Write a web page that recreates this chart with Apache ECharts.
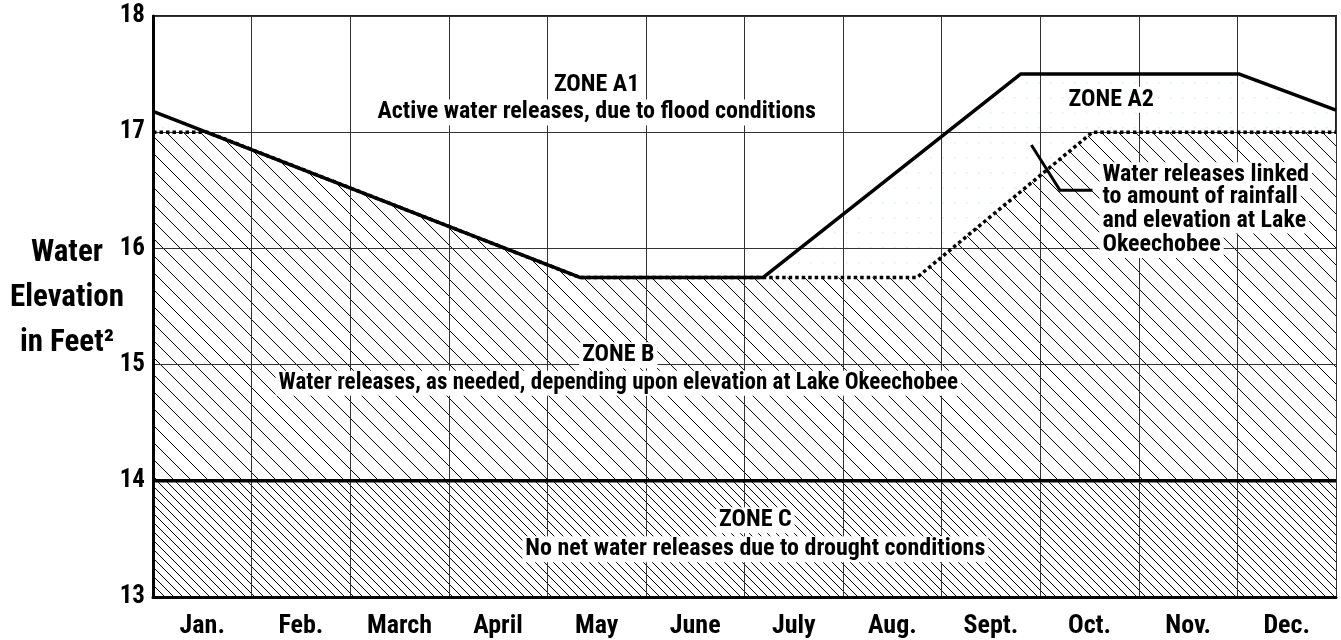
<!DOCTYPE html>
<html>
<head>
<meta charset="utf-8">
<script src="https://cdn.jsdelivr.net/npm/echarts@6/dist/echarts.min.js"></script>
<style>
  html, body { margin: 0; padding: 0; background: #fff; }
  #chart { width: 1341px; height: 640px; }
</style>
</head>
<body>
<div id="chart"></div>
<script>
// months on the x axis, 0 = start of Jan., 12 = end of Dec.
var months = ['Jan.', 'Feb.', 'March', 'April', 'May', 'June', 'July', 'Aug.', 'Sept.', 'Oct.', 'Nov.', 'Dec.']
var yTicks = [13, 14, 15, 16, 17, 18]

// upper schedule line (solid) - [month position, feet]
var zoneA1Line = [[0, 17.18], [4.33, 15.75], [6.19, 15.75], [8.8, 17.5], [11.02, 17.5], [12, 17.19]]
// lower schedule line (dotted) - top of zone B
var zoneBLine = [[0, 17], [0.55, 17], [4.33, 15.75], [7.75, 15.75], [9.53, 17], [12, 17]]
// drought line - top of zone C
var zoneCLine = [[0, 14], [12, 14]]

var FONT = "'Liberation Sans Narrow','Roboto Condensed','DejaVu Sans Condensed','Arial Narrow',sans-serif"

function hatch(step, bg) {
  var c = document.createElement('canvas')
  c.width = step
  c.height = step
  var ctx = c.getContext('2d')
  if (bg) {
    ctx.fillStyle = bg
    ctx.fillRect(0, 0, step, step)
  }
  ctx.strokeStyle = '#000'
  ctx.lineWidth = 1
  for (var k = -1; k <= 1; k++) {
    ctx.beginPath()
    ctx.moveTo(k * step - 1, -1)
    ctx.lineTo(k * step + step + 1, step + 1)
    ctx.stroke()
  }
  return c
}

function dots() {
  var c = document.createElement('canvas')
  c.width = 12
  c.height = 15
  var ctx = c.getContext('2d')
  ctx.fillStyle = '#d6ecee'
  ctx.fillRect(6, 7, 1.5, 1.5)
  return c
}

var mychart = echarts.init(document.getElementById('chart'))

mychart.setOption({
  animation: false,
  grid: {
    left: 153,
    right: 5,
    top: 16,
    bottom: 43,
    show: true,
    borderColor: '#222',
    borderWidth: 2
  },
  xAxis: [
    {
      type: 'value',
      min: 0,
      max: 12,
      interval: 1,
      z: 3,
      axisLine: { show: false },
      axisTick: { show: false },
      axisLabel: { show: false },
      splitLine: { lineStyle: { color: '#333', width: 1 } }
    },
    {
      type: 'category',
      data: months,
      position: 'bottom',
      boundaryGap: true,
      z: 3,
      axisLine: { lineStyle: { color: '#000', width: 3 } },
      axisTick: { length: 21, lineStyle: { color: '#000', width: 2 } },
      axisLabel: {
        margin: 16,
        color: '#000',
        fontFamily: FONT,
        fontWeight: 'bold',
        fontSize: 26
      },
      splitLine: { show: false }
    }
  ],
  yAxis: {
    type: 'value',
    min: yTicks[0],
    max: yTicks[yTicks.length - 1],
    interval: 1,
    z: 3,
    axisLine: { show: true, lineStyle: { color: '#000', width: 3 } },
    axisTick: { show: false },
    axisLabel: {
      margin: 8,
      color: '#000',
      fontFamily: FONT,
      fontWeight: 'bold',
      fontSize: 25
    },
    splitLine: { lineStyle: { color: '#333', width: 1 } }
  },
  series: [
    {
      // faint dots between the two schedule lines (zone A2)
      name: 'A2 fill',
      type: 'line',
      data: zoneA1Line,
      symbol: 'none',
      z: 1,
      lineStyle: { width: 0 },
      areaStyle: { origin: 'start', opacity: 1, color: { image: dots(), repeat: 'repeat' } }
    },
    {
      name: 'Zone B',
      type: 'line',
      data: zoneBLine,
      symbol: 'none',
      z: 2,
      lineStyle: { width: 0 },
      areaStyle: { origin: 14, opacity: 1, color: { image: hatch(17, '#fff'), repeat: 'repeat' } }
    },
    {
      name: 'Zone C',
      type: 'line',
      data: zoneCLine,
      symbol: 'none',
      z: 2,
      lineStyle: { width: 0 },
      areaStyle: { origin: 'start', opacity: 1, color: { image: hatch(9, '#fff'), repeat: 'repeat' } }
    },
    {
      name: 'Zone B line',
      type: 'line',
      data: zoneBLine,
      symbol: 'none',
      z: 5,
      lineStyle: { color: '#000', width: 3.5, type: [3.5, 3] }
    },
    {
      name: 'Zone A1 line',
      type: 'line',
      data: zoneA1Line,
      symbol: 'none',
      z: 6,
      lineStyle: { color: '#000', width: 3.5 }
    },
    {
      name: 'Zone C line',
      type: 'line',
      data: zoneCLine,
      symbol: 'none',
      z: 6,
      lineStyle: { color: '#000', width: 3.5 }
    }
  ]
})

// annotations, placed in data coordinates
function px(p) {
  return mychart.convertToPixel({ xAxisIndex: 0, yAxisIndex: 0 }, p)
}
function label(text, at, size, align) {
  var p = px(at)
  return {
    type: 'text',
    x: p[0],
    y: p[1],
    z: 20,
    style: {
      text: text,
      fill: '#000',
      font: 'bold ' + size + 'px ' + FONT,
      align: align || 'center',
      verticalAlign: 'middle',
      backgroundColor: '#fff',
      padding: [1, 3]
    }
  }
}
function axisTitle(text, y) {
  return {
    type: 'text', x: 67, y: y, z: 20,
    style: { text: text, fill: '#000', font: 'bold 31px ' + FONT, align: 'center', verticalAlign: 'middle' }
  }
}

var leader = [[8.91, 16.89], [9.2, 16.5], [9.53, 16.5]].map(px)

mychart.setOption({
  graphic: [
    label('ZONE A1', [4.5, 17.41], 24),
    label('Active water releases, due to flood conditions', [4.5, 17.17], 24),
    label('ZONE A2', [9.72, 17.28], 24),
    label('Water releases linked', [9.6, 16.63], 24, 'left'),
    label('to amount of rainfall', [9.6, 16.44], 24, 'left'),
    label('and elevation at Lake', [9.6, 16.24], 24, 'left'),
    label('Okeechobee', [9.6, 16.03], 24, 'left'),
    label('ZONE B', [4.72, 15.08], 24),
    label('Water releases, as needed, depending upon elevation at Lake Okeechobee', [4.72, 14.84], 23),
    label('ZONE C', [6.11, 13.66], 24),
    label('No net water releases due to drought conditions', [6.11, 13.41], 24),
    {
      type: 'polyline',
      z: 20,
      shape: { points: leader },
      style: { stroke: '#000', lineWidth: 3, fill: null }
    },
    axisTitle('Water', 253),
    axisTitle('Elevation', 298),
    axisTitle('in Feet²', 343)
  ]
})
</script>
</body>
</html>
